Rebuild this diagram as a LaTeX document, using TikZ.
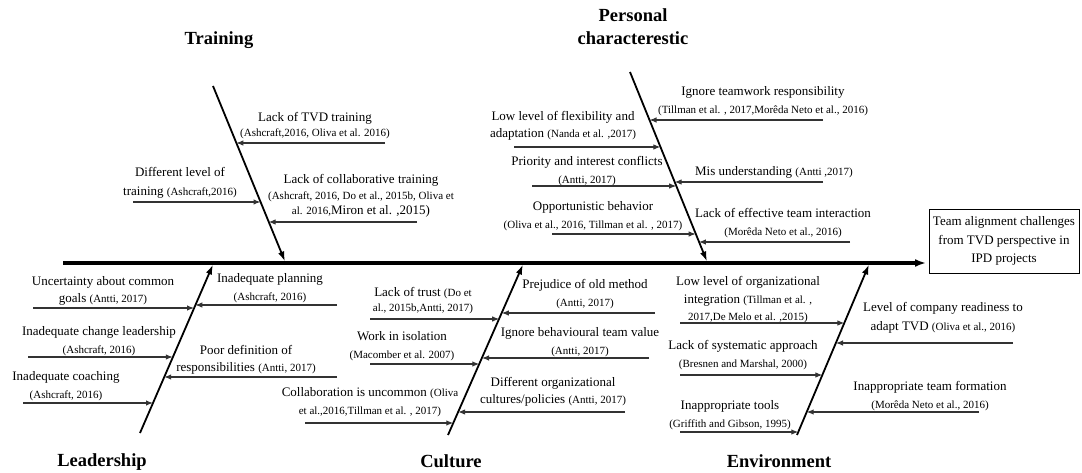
\documentclass[tikz,border=0pt]{standalone}
\usepackage{fontspec}
\setmainfont{Liberation Serif}
\usetikzlibrary{arrows.meta}
\newcommand{\cit}[1]{{\fontsize{11}{17.5}\selectfont #1}}
\begin{document}
\begin{tikzpicture}[x=1pt,y=-1pt,
  sub/.style={draw=black!80, line width=1.1pt, -{Latex[length=7pt,width=5.5pt]}},
  bone/.style={line width=1.8pt, -{Latex[length=10pt,width=6.5pt]}},
  spine/.style={line width=3.2pt, -{Latex[length=11pt,width=8pt]}},
  lab/.style={align=center, inner sep=0pt, font=\fontsize{13}{17.5}\selectfont},
  cat/.style={align=center, inner sep=0pt, font=\bfseries\fontsize{18.5}{23}\selectfont}]
\useasboundingbox (0,0) rectangle (1082,473);

% spine and effect box
\node[lab, draw, line width=0.8pt, minimum width=150pt, minimum height=64pt] (box) at (1004,241)
  {Team alignment challenges\\[1pt]from TVD perspective in\\[1pt]IPD projects};
\coordinate (tail) at (63,263);
\coordinate (head) at (926,263);
\draw[spine] (tail) -- (head);

% category labels
\node[cat] (training) at (219,40) {Training};
\node[cat] (personal) at (633,27) {Personal\\characterestic};
\node[cat] (leadership) at (102,462) {Leadership};
\node[cat] (culture) at (451,461) {Culture};
\node[cat] (environment) at (779,461) {Environment};

% bones
\coordinate (Ttop) at (213,86);  \coordinate (Tbot) at (285,261.5);
\coordinate (Ptop) at (630,72);  \coordinate (Pbot) at (707,261.5);
\coordinate (Lbot) at (140,433); \coordinate (Ltop) at (213,264.5);
\coordinate (Cbot) at (448,435); \coordinate (Ctop) at (523,264.5);
\coordinate (Ebot) at (797,435); \coordinate (Etop) at (869,264.5);
\draw[bone] (Ttop) -- (Tbot);
\draw[bone] (Ptop) -- (Pbot);
\draw[bone] (Lbot) -- (Ltop);
\draw[bone] (Cbot) -- (Ctop);
\draw[bone] (Ebot) -- (Etop);

% ---------- Training ----------
\node[lab] (t1) at (315,126) {Lack of TVD training\\[-2.5pt]\cit{(Ashcraft,2016, Oliva et al. 2016)}};
\coordinate (t1s) at (385,143); \coordinate (t1e) at (236.3,143);
\draw[sub] (t1s) -- (t1e);
\node[lab] (t2) at (180,183) {Different level of\\[1.5pt]training \cit{(Ashcraft,2016)}};
\coordinate (t2s) at (133,202); \coordinate (t2e) at (260.5,202);
\draw[sub] (t2s) -- (t2e);
\node[lab] (t3) at (361,196) {Lack of collaborative training\\[-2pt]\cit{(Ashcraft, 2016, Do et al., 2015b, Oliva et}\\[-2.5pt]\cit{al. 2016,}Miron et al. ,2015)};
\coordinate (t3s) at (417,222); \coordinate (t3e) at (268.6,222);
\draw[sub] (t3s) -- (t3e);

% ---------- Personal characterestic ----------
\node[lab] (p1) at (563,126) {Low level of flexibility and\\adaptation \cit{(Nanda et al. ,2017)}};
\coordinate (p1s) at (514,147); \coordinate (p1e) at (660.4,147);
\draw[sub] (p1s) -- (p1e);
\node[lab] (p2) at (587,171) {Priority and interest conflicts\\\cit{(Antti, 2017)}};
\coordinate (p2s) at (532,186); \coordinate (p2e) at (676.2,186);
\draw[sub] (p2s) -- (p2e);
\node[lab] (p3) at (593,216) {Opportunistic behavior\\\cit{(Oliva et al., 2016, Tillman et al. , 2017)}};
\coordinate (p3s) at (552,234); \coordinate (p3e) at (695.7,234);
\draw[sub] (p3s) -- (p3e);
\node[lab] (p4) at (763,101) {Ignore teamwork responsibility\\\cit{(Tillman et al. , 2017,Morêda Neto et al., 2016)}};
\coordinate (p4s) at (823,120); \coordinate (p4e) at (649.5,120);
\draw[sub] (p4s) -- (p4e);
\node[lab] (p5) at (774,172) {Mis understanding \cit{(Antti ,2017)}};
\coordinate (p5s) at (823,182); \coordinate (p5e) at (674.6,182);
\draw[sub] (p5s) -- (p5e);
\node[lab] (p6) at (783,223) {Lack of effective team interaction\\[1pt]\cit{(Morêda Neto et al., 2016)}};
\coordinate (p6s) at (850,242); \coordinate (p6e) at (698.9,242);
\draw[sub] (p6s) -- (p6e);

% ---------- Leadership ----------
\node[lab] (l1) at (103,291) {Uncertainty about common\\goals \cit{(Antti, 2017)}};
\coordinate (l1s) at (33,308); \coordinate (l1e) at (194,308);
\draw[sub] (l1s) -- (l1e);
\node[lab] (l2) at (99,341) {Inadequate change leadership\\\cit{(Ashcraft, 2016)}};
\coordinate (l2s) at (28,357); \coordinate (l2e) at (172.8,357);
\draw[sub] (l2s) -- (l2e);
\node[lab] (l3) at (66,386) {Inadequate coaching\\\cit{(Ashcraft, 2016)}};
\coordinate (l3s) at (23,403); \coordinate (l3e) at (153,403);
\draw[sub] (l3s) -- (l3e);
\node[lab] (l4) at (270,288) {Inadequate planning\\\cit{(Ashcraft, 2016)}};
\coordinate (l4s) at (337,305); \coordinate (l4e) at (195.3,305);
\draw[sub] (l4s) -- (l4e);
\node[lab] (l5) at (246,360) {Poor definition of\\responsibilities \cit{(Antti, 2017)}};
\coordinate (l5s) at (337,377); \coordinate (l5e) at (164.2,377);
\draw[sub] (l5s) -- (l5e);

% ---------- Culture ----------
\node[lab] (c1) at (423,301) {Lack of trust \cit{(Do et}\\[-2.5pt]\cit{al., 2015b,Antti, 2017)}};
\coordinate (c1s) at (370,319); \coordinate (c1e) at (499.2,319);
\draw[sub] (c1s) -- (c1e);
\node[lab] (c2) at (402,346) {Work in isolation\\\cit{(Macomber et al. 2007)}};
\coordinate (c2s) at (370,364); \coordinate (c2e) at (479.3,364);
\draw[sub] (c2s) -- (c2e);
\node[lab] (c3) at (370,402) {Collaboration is uncommon \cit{(Oliva}\\\cit{et al.,2016,Tillman et al. , 2017)}};
\coordinate (c3s) at (305,423); \coordinate (c3e) at (453.3,423);
\draw[sub] (c3s) -- (c3e);
\node[lab] (c4) at (585,294) {Prejudice of old method\\\cit{(Antti, 2017)}};
\coordinate (c4s) at (655,313); \coordinate (c4e) at (501.8,313);
\draw[sub] (c4s) -- (c4e);
\node[lab] (c5) at (580,342) {Ignore behavioural team value\\\cit{(Antti, 2017)}};
\coordinate (c5s) at (649,358); \coordinate (c5e) at (482,358);
\draw[sub] (c5s) -- (c5e);
\node[lab] (c6) at (553,392) {Different organizational\\cultures/policies \cit{(Antti, 2017)}};
\coordinate (c6s) at (625,412); \coordinate (c6e) at (458.1,412);
\draw[sub] (c6s) -- (c6e);

% ---------- Environment ----------
\node[lab] (e1) at (748,300) {Low level of organizational\\integration \cit{(Tillman et al. ,}\\\cit{2017,De Melo et al. ,2015)}};
\coordinate (e1s) at (680,323); \coordinate (e1e) at (844.4,323);
\draw[sub] (e1s) -- (e1e);
\node[lab] (e2) at (743,355) {Lack of systematic approach\\\cit{(Bresnen and Marshal, 2000)}};
\coordinate (e2s) at (680,375); \coordinate (e2e) at (822.4,375);
\draw[sub] (e2s) -- (e2e);
\node[lab] (e3) at (730,415) {Inappropriate tools\\\cit{(Griffith and Gibson, 1995)}};
\coordinate (e3s) at (680,432); \coordinate (e3e) at (798.3,432);
\draw[sub] (e3s) -- (e3e);
\node[lab] (e4) at (943,318) {Level of company readiness to\\[2pt]adapt TVD \cit{(Oliva et al., 2016)}};
\coordinate (e4s) at (1013,343); \coordinate (e4e) at (836,343);
\draw[sub] (e4s) -- (e4e);
\node[lab] (e5) at (930,396) {Inappropriate team formation\\\cit{(Morêda Neto et al., 2016)}};
\coordinate (e5s) at (979,412); \coordinate (e5e) at (806.7,412);
\draw[sub] (e5s) -- (e5e);
\end{tikzpicture}
\end{document}
